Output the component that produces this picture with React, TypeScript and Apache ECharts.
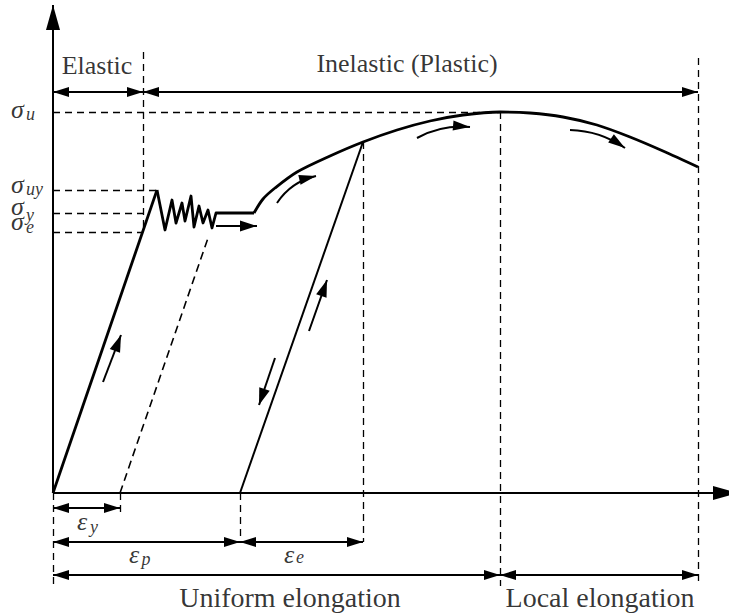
import { useEffect, useRef } from "react";
import * as echarts from "echarts";

// Drawing units: 1 unit = 1 px, origin at the intersection of the strain and stress axes.
const X_MIN = -53;
const X_MAX = 676;
const Y_MIN = -121;
const Y_MAX = 493;

// Characteristic stress levels
const SIGMA_U = 381;
const SIGMA_UY = 303;
const SIGMA_Y = 280;
const SIGMA_E = 261;

// Characteristic strains
const EPS_ELASTIC_LIMIT = 90;
const EPS_Y = 67;
const EPS_P = 187;
const EPS_UNLOAD = 310;
const EPS_UNIFORM = 447;
const EPS_FRACTURE = 645;

// Loading path: linear elastic branch, upper yield peak, yield serrations, plateau
const elasticBranch: number[][] = [
  [0, 0],
  [104, SIGMA_UY],
];
const yieldSerrations: number[][] = [
  [104, SIGMA_UY], [112, 263], [119, 293], [123, 270], [129, 290], [132, 272],
  [138, 297], [141, 266], [146, 287], [150, 270], [155, 283], [159, 265],
  [163, SIGMA_Y], [201, SIGMA_Y],
];
// Strain hardening up to the ultimate stress, then necking
const hardeningCurve: number[][] = [
  [201, SIGMA_Y], [210, 294], [222, 305], [244, 321], [277, 337], [EPS_UNLOAD, 351],
  [344, 363], [377, 372], [410, 378], [EPS_UNIFORM, SIGMA_U], [477, 380], [510, 376],
  [544, 368], [577, 356], [610, 342], [EPS_FRACTURE, 326],
];
// Elastic unloading from the hardening branch and the offset reloading line
const unloadLine: number[][] = [
  [EPS_UNLOAD, 351],
  [EPS_P, 0],
];
const offsetLine: number[][] = [
  [EPS_Y, 0],
  [155, 255],
];

// Dashed guides
const guideLines: number[][][] = [
  [[0, SIGMA_U], [EPS_UNIFORM, SIGMA_U]],
  [[0, SIGMA_UY], [104, SIGMA_UY]],
  [[0, SIGMA_Y], [95, SIGMA_Y]],
  [[0, SIGMA_E], [EPS_ELASTIC_LIMIT, SIGMA_E]],
  [[EPS_ELASTIC_LIMIT, 441], [EPS_ELASTIC_LIMIT, SIGMA_E]],
  [[EPS_FRACTURE, 435], [EPS_FRACTURE, -93]],
  [[EPS_UNIFORM, SIGMA_U], [EPS_UNIFORM, -93]],
  [[EPS_UNLOAD, 351], [EPS_UNLOAD, -49]],
  [[EPS_P, 0], [EPS_P, -49]],
  [[0, 0], [0, -93]],
  [[EPS_Y, 0], [EPS_Y, -23]],
];

// Double-headed dimension arrows
const dimensionArrows: number[][][] = [
  [[0, 401], [EPS_ELASTIC_LIMIT, 401]],
  [[EPS_ELASTIC_LIMIT, 401], [EPS_FRACTURE, 401]],
  [[0, -15], [EPS_Y, -15]],
  [[0, -49], [EPS_P, -49]],
  [[EPS_P, -49], [EPS_UNLOAD, -49]],
  [[0, -82], [EPS_UNIFORM, -82]],
  [[EPS_UNIFORM, -82], [EPS_FRACTURE, -82]],
];

// Loading-direction arrows
const directionArrows: number[][][] = [
  [[50, 111], [68, 158]],
  [[163, 267], [204, 267]],
  [[256, 162], [274, 213]],
  [[222, 135], [206, 88]],
];
const curvedArrows: { coords: number[][]; bend: number }[] = [
  { coords: [[224, 290], [263, 317]], bend: 0.2 },
  { coords: [[364, 355], [417, 366]], bend: 0.15 },
  { coords: [[517, 363], [572, 345]], bend: 0.15 },
];

// Axes
const strainAxis: number[][] = [[0, 0], [685, 0]];
const stressAxis: number[][] = [[0, 0], [0, 488]];

// Text annotations
type Note = { text: string; x: number; y: number; size: number; italic?: boolean; align?: "left" | "center" };
const notes: Note[] = [
  { text: "Elastic", x: 44, y: 428, size: 26 },
  { text: "Inelastic (Plastic)", x: 354, y: 430, size: 26 },
  { text: "Uniform elongation", x: 237, y: -104, size: 28 },
  { text: "Local elongation", x: 547, y: -104, size: 28 },
  { text: "σ", x: -42, y: 384, size: 26, italic: true, align: "left" },
  { text: "u", x: -27, y: 379, size: 18, italic: true, align: "left" },
  { text: "σ", x: -42, y: 309, size: 26, italic: true, align: "left" },
  { text: "uy", x: -27, y: 304, size: 18, italic: true, align: "left" },
  { text: "σ", x: -42, y: 287, size: 26, italic: true, align: "left" },
  { text: "y", x: -27, y: 278, size: 18, italic: true, align: "left" },
  { text: "σ", x: -42, y: 272, size: 26, italic: true, align: "left" },
  { text: "e", x: -27, y: 266, size: 18, italic: true, align: "left" },
  { text: "ε", x: 29, y: -28, size: 26, italic: true },
  { text: "y", x: 41, y: -34, size: 18, italic: true },
  { text: "ε", x: 81, y: -61, size: 26, italic: true },
  { text: "p", x: 93, y: -66, size: 18, italic: true },
  { text: "ε", x: 236, y: -61, size: 26, italic: true },
  { text: "e", x: 247, y: -64, size: 18, italic: true },
];

const INK = "#000";
const SERIF = "'Liberation Serif', 'DejaVu Serif', serif";

// Triangle whose tip sits at the centre of its box, so the tip lands on the line end.
function tipArrow(w: number, h: number) {
  return {
    symbol: `path://M0,0L0,0M${w / 2},${h}L${w},${2 * h}L0,${2 * h}Z`,
    size: [w, 2 * h],
  };
}

function segmentSeries(
  list: number[][][],
  width: number,
  opts: { dashed?: boolean; from?: [number, number]; to?: [number, number]; bends?: number[] } = {}
) {
  const from = opts.from ? tipArrow(opts.from[0], opts.from[1]) : null;
  const to = opts.to ? tipArrow(opts.to[0], opts.to[1]) : null;
  return {
    type: "lines",
    coordinateSystem: "cartesian2d",
    silent: true,
    clip: false,
    symbol: [from ? from.symbol : "none", to ? to.symbol : "none"],
    symbolSize: [from ? from.size : 0, to ? to.size : 0],
    lineStyle: { color: INK, width, type: opts.dashed ? [7, 5] : "solid", opacity: 1 },
    itemStyle: { color: INK },
    data: list.map((coords, i) => ({
      coords,
      lineStyle: opts.bends ? { curveness: opts.bends[i] } : {},
    })),
  };
}

function curveSeries(points: number[][], width: number, smooth: number | boolean, dashed = false) {
  return {
    type: "line",
    silent: true,
    clip: false,
    showSymbol: false,
    symbol: "none",
    smooth,
    lineStyle: { color: INK, width, type: dashed ? [8, 5] : "solid", join: "round" },
    data: points,
  };
}

export default function App() {
  const ref = useRef<HTMLDivElement>(null);

  useEffect(() => {
    document.body.style.margin = "0";
    if (!ref.current) return;
    const chart = echarts.init(ref.current, undefined, { renderer: "svg" });

    chart.setOption({
      animation: false,
      backgroundColor: "#fff",
      textStyle: { fontFamily: SERIF },
      grid: { left: 0, right: 0, top: 0, bottom: 0 },
      xAxis: { type: "value", min: X_MIN, max: X_MAX, show: false },
      yAxis: { type: "value", min: Y_MIN, max: Y_MAX, show: false },
      series: [
        segmentSeries([strainAxis, stressAxis], 2, { to: [14, 25] }),
        segmentSeries(guideLines, 1.3, { dashed: true }),
        segmentSeries(dimensionArrows, 2, { from: [10, 16], to: [10, 16] }),
        segmentSeries(directionArrows, 2, { to: [11, 17] }),
        segmentSeries(
          curvedArrows.map((c) => c.coords),
          2,
          { to: [10, 17], bends: curvedArrows.map((c) => c.bend) }
        ),
        curveSeries(offsetLine, 1.6, false, true),
        curveSeries(unloadLine, 2, false),
        curveSeries(elasticBranch, 2.8, false),
        curveSeries(yieldSerrations, 2.8, false),
        curveSeries(hardeningCurve, 2.8, 0.3),
        {
          type: "scatter",
          silent: true,
          clip: false,
          symbol: "circle",
          symbolSize: 1,
          itemStyle: { color: "transparent" },
          label: { fontFamily: SERIF },
          data: notes.map((n) => ({
            value: [n.x, n.y],
            label: {
              show: true,
              position: "inside",
              formatter: n.text,
              align: n.align || "center",
              verticalAlign: "middle",
              lineHeight: Math.round(n.size * 0.8),
              fontSize: n.size,
              fontStyle: n.italic ? "italic" : "normal",
              fontFamily: SERIF,
              color: INK,
            },
          })),
        },
      ],
    });

    return () => chart.dispose();
  }, []);

  return <div ref={ref} style={{ width: 729, height: 614 }} />;
}
